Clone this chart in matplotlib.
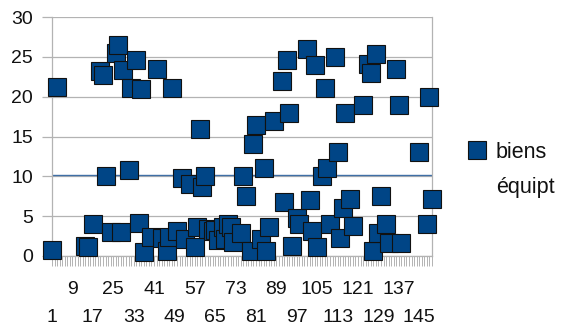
import matplotlib
matplotlib.use("Agg")
import matplotlib.pyplot as plt
from matplotlib.lines import Line2D
import numpy as np

plt.rcParams['font.family'] = ['Liberation Sans', 'DejaVu Sans']

# Observation index (category number) and recorded value
obs_index = [1, 3, 14, 15, 17, 20, 21, 22, 24, 26, 27, 28, 29, 31, 32, 34, 35, 36,
             37, 40, 42, 44, 46, 47, 48, 50, 52, 53, 55, 57, 58, 59, 60, 61, 62,
             64, 65, 66, 68, 69, 70, 71, 72, 75, 76, 77, 79, 80, 81, 83, 84, 85,
             86, 88, 91, 92, 93, 94, 95, 97, 98, 101, 102, 103, 104, 105, 107,
             108, 109, 110, 112, 113, 114, 115, 116, 118, 119, 123, 125, 126, 127,
             128, 129, 130, 132, 133, 136, 137, 138, 145, 148, 149, 150]
biens_equipt = [0.8, 21.2, 1.3, 1.1, 4.0, 23.2, 22.7, 10.0, 3.0, 25.5, 26.5, 3.0,
                23.3, 10.8, 21.1, 24.6, 4.1, 21.0, 0.5, 2.4, 23.5, 2.3, 0.6, 2.4,
                21.1, 3.1, 9.8, 2.1, 9.0, 1.1, 3.6, 16.0, 8.7, 10.0, 3.4, 3.1, 3.3,
                2.0, 3.7, 2.1, 4.0, 3.6, 1.8, 2.9, 10.0, 7.5, 0.6, 14.0, 16.5, 2.1,
                11.1, 0.6, 3.6, 17.0, 22.0, 6.8, 24.6, 18.0, 1.2, 4.8, 4.0, 26.0,
                7.0, 3.2, 24.0, 1.1, 10.0, 21.1, 11.1, 4.0, 25.0, 13.0, 2.2, 6.0,
                18.0, 7.1, 3.8, 19.0, 24.1, 23.0, 0.6, 25.3, 2.9, 7.5, 4.0, 1.6,
                23.5, 19.0, 1.6, 13.0, 4.0, 20.0, 7.1]
mean_level = 10.15
n_categories = 150
label_positions = list(range(1, 146, 8))
y_ticks = [0, 5, 10, 15, 20, 25, 30]

blue = '#004586'
grey = '#b3b3b3'
text_col = '#111111'

fig = plt.figure(figsize=(5.78, 3.26), dpi=100)
ax = fig.add_axes([52 / 578, 1 - 256 / 326, 380 / 578, 239 / 326])

ax.set_xlim(1, n_categories)
ax.set_ylim(0, 30)

# horizontal gridlines
for yv in y_ticks:
    ax.axhline(yv, color=grey, lw=0.9, zorder=1)

ax.axhline(mean_level, color='#3f6fa6', lw=1.0, zorder=2)

ax.plot(obs_index, biens_equipt, linestyle='none', marker='s', markersize=13.5,
        markerfacecolor=blue, markeredgecolor=text_col, markeredgewidth=0.8,
        zorder=3, clip_on=False)

for side in ['left', 'right', 'bottom']:
    ax.spines[side].set_color(grey)
    ax.spines[side].set_linewidth(0.9)
ax.spines['top'].set_visible(False)

ax.set_yticks(y_ticks)
ax.tick_params(axis='y', length=7.5, width=0.9, color=grey, labelsize=14,
               pad=6, labelcolor=text_col)

# one tick mark per category, labels every 8th category on two staggered rows
ax.set_xticks(label_positions, [''] * len(label_positions))
ax.set_xticks(np.arange(1, n_categories + 1), minor=True)
ax.tick_params(axis='x', which='both', length=7.5, width=0.7, color=grey,
               direction='out')
xtrans = ax.get_xaxis_transform()
for k, p in enumerate(label_positions):
    row_y = -61 / 239 if k % 2 == 0 else -33 / 239
    ax.text(p, row_y, str(p), transform=xtrans, ha='center', va='center',
            fontsize=14, color=text_col)

# legend entry
fig.add_artist(Line2D([477 / 578], [1 - 150 / 326], marker='s', markersize=12.5,
                      markerfacecolor=blue, markeredgecolor=text_col,
                      markeredgewidth=0.8, linestyle='none',
                      transform=fig.transFigure))
fig.text(496 / 578, 1 - 153 / 326, "biens", fontsize=15.5,
         va='center', ha='left', color=text_col)
fig.text(496 / 578, 1 - 188 / 326, "équipt", fontsize=15.5,
         va='center', ha='left', color=text_col)

fig.savefig('out.png', dpi=100)
